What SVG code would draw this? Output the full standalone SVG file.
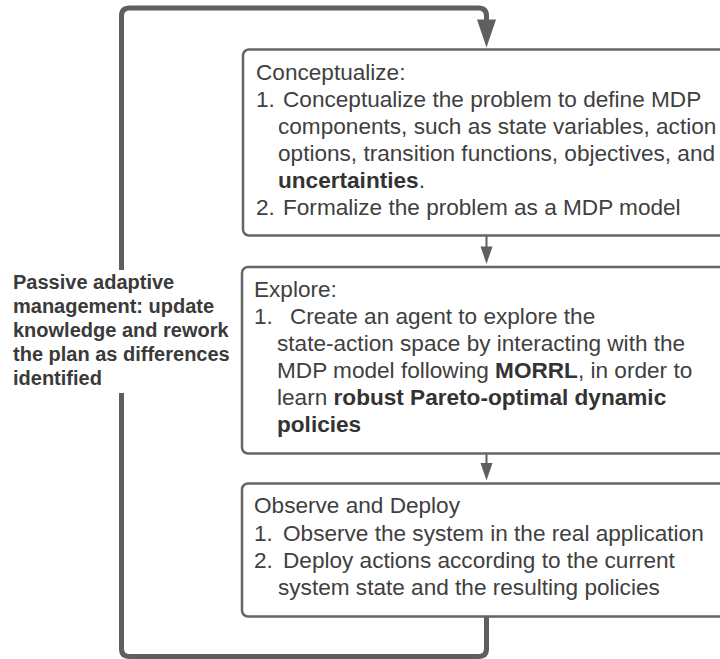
<svg xmlns="http://www.w3.org/2000/svg" width="720" height="659" viewBox="0 0 720 659">
  <defs>
    <style>
      .box { fill: #ffffff; stroke: #666666; stroke-width: 2.5; }
      .txt { font-family: "Liberation Sans", Arial, sans-serif; font-size: 22.6px; fill: #404040; }
      .b { font-weight: bold; fill: #333333; }
      .side { font-family: "Liberation Sans", Arial, sans-serif; font-size: 20px; font-weight: bold; fill: #3a3a3a; }
      .loop { fill: none; stroke: #5f5f5f; stroke-width: 5; stroke-linejoin: round; }
      .link { fill: none; stroke: #5f5f5f; stroke-width: 2; }
      .head { fill: #5f5f5f; }
    </style>
  </defs>

  <!-- connectors -->
  <g id="connectors">
    <!-- feedback loop from the deploy step back to the start -->
    <path class="loop" d="M486.5,617 V648.5 q0,8 -8,8 H129.5 q-8,0 -8,-8 V393"/>
    <path class="loop" d="M121.5,270 V16 q0,-8 8,-8 H478.5 q8,0 8,8 V22"/>
    <polygon class="head" points="477,19.5 496,19.5 486.5,47.5"/>
    <!-- step-to-step arrows -->
    <path class="link" d="M486.5,236 V248"/>
    <polygon class="head" points="480.5,246.5 492.5,246.5 486.5,264"/>
    <path class="link" d="M486.5,454 V464"/>
    <polygon class="head" points="480.5,463 492.5,463 486.5,480.5"/>
  </g>

  <!-- side label on the feedback loop -->
  <g id="label-passive">
    <text class="side" x="13" y="289">Passive adaptive</text>
    <text class="side" x="13" y="313">management: update</text>
    <text class="side" x="13" y="337">knowledge and rework</text>
    <text class="side" x="13" y="361">the plan as differences</text>
    <text class="side" x="13" y="385">identified</text>
  </g>

  <g id="node-conceptualize">
    <rect class="box" x="243" y="49.5" width="500" height="186" rx="6"/>
    <text class="txt" x="256" y="80">Conceptualize:</text>
    <text class="txt" x="256" y="107">1.</text>
    <text class="txt" x="283" y="107">Conceptualize the problem to define MDP</text>
    <text class="txt" x="278" y="134">components, such as state variables, action</text>
    <text class="txt" x="278" y="161">options, transition functions, objectives, and</text>
    <text class="txt" x="278" y="188"><tspan class="b">uncertainties</tspan>.</text>
    <text class="txt" x="256" y="215">2.</text>
    <text class="txt" x="283" y="215">Formalize the problem as a MDP model</text>
  </g>

  <g id="node-explore">
    <rect class="box" x="242" y="267" width="500" height="186.5" rx="6"/>
    <text class="txt" x="254" y="297">Explore:</text>
    <text class="txt" x="254" y="324">1.</text>
    <text class="txt" x="290" y="324">Create an agent to explore the</text>
    <text class="txt" x="277" y="351">state-action space by interacting with the</text>
    <text class="txt" x="277" y="378">MDP model following <tspan class="b">MORRL</tspan>, in order to</text>
    <text class="txt" x="277" y="405">learn <tspan class="b">robust Pareto-optimal dynamic</tspan></text>
    <text class="txt" x="277" y="432"><tspan class="b">policies</tspan></text>
  </g>

  <g id="node-observe-deploy">
    <rect class="box" x="242" y="483.5" width="500" height="133" rx="6"/>
    <text class="txt" x="254" y="513">Observe and Deploy</text>
    <text class="txt" x="254" y="541">1.</text>
    <text class="txt" x="283" y="541">Observe the system in the real application</text>
    <text class="txt" x="254" y="568">2.</text>
    <text class="txt" x="283" y="568">Deploy actions according to the current</text>
    <text class="txt" x="278" y="595">system state and the resulting policies</text>
  </g>
</svg>
